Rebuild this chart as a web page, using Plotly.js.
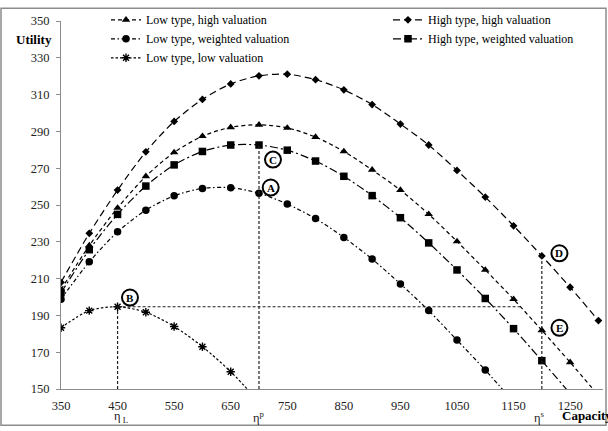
<!DOCTYPE html>
<html><head><meta charset="utf-8">
<script src="https://cdn.plot.ly/plotly-3.0.1.min.js"></script>
<style>html,body{margin:0;padding:0;background:#fff}#chart{width:608px;height:431px}</style>
</head><body><div id="chart"></div>
<script>
// ---- data ----
const capacity = [350,400,450,500,550,600,650,700,750,800,850,900,950,1000,1050,1100,1150,1200,1250,1300];
const lowHigh      = [204,228,248.4,265.6,278.6,287.4,292.2,293.6,291.9,286.9,279.1,269.1,258.1,245,230.2,214.7,198.8,181.9,164.5,146.5];
const highHigh     = [208,234.6,258.1,278.9,295.4,307.4,315.8,320.2,321.1,318.1,312.6,304.6,294,282.6,268.8,254.3,238.7,222.3,205.3,187.2];
const lowWeighted  = [198.8,219.1,235.4,247.2,255,259,259.4,256.4,250.5,242.6,232.4,220.6,207.1,192.6,176.6,160.3,143,null,null,null];
const highWeighted = [202.3,225.7,244.9,260.3,271.8,279.1,282.6,282.6,279.8,273.9,265.6,255.1,243.1,229.4,214.7,199.2,182.8,165.4,147.5,null];
const lowLow       = [183.3,192.6,194.7,191.7,184,173,159.4,143,null,null,null,null,null,null,null,null,null,null,null,null];
const seriesNames = ['Low type, high valuation','High type, high valuation','Low type, weighted valuation','High type, weighted valuation','Low type, low valuation'];
const xTicks = [350,450,550,650,750,850,950,1050,1150,1250];
const yTicks = [150,170,190,210,230,250,270,290,310,330,350];
const etaL = 450, etaP = 700, etaS = 1200;

const FONT = 'Liberation Serif, Times New Roman, serif';
const lw = 1.2;
function tr(name, y, sym, size, dash, legend, extra) {
  return Object.assign({
    type:'scatter', mode:'lines+markers', name:name, x:capacity, y:y,
    line:{color:'#000', width:lw, dash:dash, shape:'spline', smoothing:0.8},
    marker:{symbol:sym, size:size, color:'#000', line:{color:'#000', width:0}},
    legend:legend, connectgaps:false
  }, extra||{});
}
const data = [
  tr(seriesNames[0], lowHigh, 'triangle-up', 7.5, '4px,3px', 'legend'),
  tr(seriesNames[2], lowWeighted, 'circle', 7.5, '4px,2.5px,1.5px,2.5px', 'legend'),
  tr(seriesNames[4], lowLow, 'asterisk-open', 7, '2.5px,2px', 'legend', {marker:{symbol:'asterisk-open', size:7, color:'#000', line:{color:'#000', width:1.4}}}),
  tr(seriesNames[1], highHigh, 'diamond', 6, '7px,4px', 'legend2'),
  tr(seriesNames[3], highWeighted, 'square', 7.5, '8px,3px,2px,3px', 'legend2')
];

// intersection of B's horizontal with the low-type high-valuation curve
const yB = lowLow[capacity.indexOf(etaL)];
let xEnd = capacity[capacity.length-1];
for (let i=0;i<capacity.length-1;i++){
  if (lowHigh[i] >= yB && lowHigh[i+1] < yB && capacity[i] > etaL){
    xEnd = capacity[i] + (capacity[i+1]-capacity[i])*(lowHigh[i]-yB)/(lowHigh[i]-lowHigh[i+1]);
    break;
  }
}
const yMin = yTicks[0];
const yC = highWeighted[capacity.indexOf(etaP)];
const yA = lowWeighted[capacity.indexOf(etaP)];
const yD = highHigh[capacity.indexOf(etaS)];
const yE = lowHigh[capacity.indexOf(etaS)];

const refLine = {color:'#222', width:1.2, dash:'3px,2px'};
const shapes = [
  {type:'line', xref:'x', yref:'y', x0:etaL, x1:etaL, y0:yMin, y1:yB, line:refLine},
  {type:'line', xref:'x', yref:'y', x0:etaL, x1:xEnd, y0:yB, y1:yB, line:refLine},
  {type:'line', xref:'x', yref:'y', x0:etaP, x1:etaP, y0:yMin, y1:yC, line:refLine},
  {type:'line', xref:'x', yref:'y', x0:etaS, x1:etaS, y0:yMin, y1:yD, line:refLine},
  // outer frame
  {type:'rect', xref:'paper', yref:'paper', x0:-60/542, x1:545/542, y0:-37/375, y1:1+13/375, line:{color:'#8c8c8c', width:1.5}}
];
const labels = [
  ['A', etaP, yA, 11.7, 5.7],
  ['C', etaP, yC, 14, -14.6],
  ['B', etaL, yB, 12.4, 9.2],
  ['D', etaS, yD, 17.6, 2.7],
  ['E', etaS, yE, 17.6, 2.5]
];
const annotations = [];
labels.forEach(l => {
  shapes.push({type:'circle', xref:'x', yref:'y', xsizemode:'pixel', ysizemode:'pixel',
    xanchor:l[1], yanchor:l[2], x0:l[3]-8, x1:l[3]+8, y0:l[4]-8, y1:l[4]+8,
    line:{color:'#000', width:2}, fillcolor:'rgba(255,255,255,0)'});
  annotations.push({xref:'x', yref:'y', x:l[1], y:l[2], xshift:l[3], yshift:l[4], text:'<b>'+l[0]+'</b>',
    showarrow:false, font:{family:FONT, size:11, color:'#000'}, xanchor:'center', yanchor:'middle'});
});
annotations.push({xref:'paper', yref:'paper', x:(34-61)/542, y:1-(33-14)/375, text:'<b>Utility</b>', showarrow:false,
  font:{family:FONT, size:13, color:'#000'}, xanchor:'center', yanchor:'middle'});
annotations.push({xref:'paper', yref:'paper', x:(560-61)/542, y:-(416-389)/375, text:'<b>Capacity</b>', showarrow:false,
  font:{family:FONT, size:13, color:'#000'}, xanchor:'left', yanchor:'middle'});
[[etaL,'η<sub> L</sub>',3],[etaP,'η<sup>p</sup>',0],[etaS,'η<sup>s</sup>',-2]].forEach(e => {
  annotations.push({xref:'x', yref:'paper', x:e[0], y:0, yshift:-28, xshift:e[2], text:e[1], showarrow:false,
    font:{family:FONT, size:12.5, color:'#222'}, xanchor:'center', yanchor:'middle'});
});

const legendBase = {orientation:'v', xanchor:'left', yanchor:'top', bgcolor:'rgba(0,0,0,0)', borderwidth:0,
  font:{family:FONT, size:12, color:'#000'}, tracegroupgap:0, itemclick:false};
const layout = {
  width:608, height:431,
  margin:{l:61, r:5, t:14, b:42},
  paper_bgcolor:'#fff', plot_bgcolor:'#fff',
  showlegend:true,
  legend:Object.assign({}, legendBase, {x:(106-61)/542, y:1+(14+2)/375}),
  legend2:Object.assign({}, legendBase, {x:(388-61)/542, y:1+(14+2)/375}),
  xaxis:{range:[350, 350+542/0.5657], tickvals:xTicks, ticktext:xTicks.map(String), showgrid:false, zeroline:false,
    showline:true, linecolor:'#8c8c8c', linewidth:1, ticks:'', ticklabelstandoff:5,
    tickfont:{family:FONT, size:12.5, color:'#222'}},
  yaxis:{range:[150,350], tickvals:yTicks, ticktext:yTicks.map(String), showgrid:false, zeroline:false,
    showline:true, linecolor:'#8c8c8c', linewidth:1, ticks:'outside', ticklen:4, tickcolor:'#8c8c8c', ticklabelstandoff:4,
    tickfont:{family:FONT, size:12.5, color:'#222'}},
  shapes:shapes, annotations:annotations
};
Plotly.newPlot('chart', data, layout, {displayModeBar:false, staticPlot:true});
</script></body></html>
